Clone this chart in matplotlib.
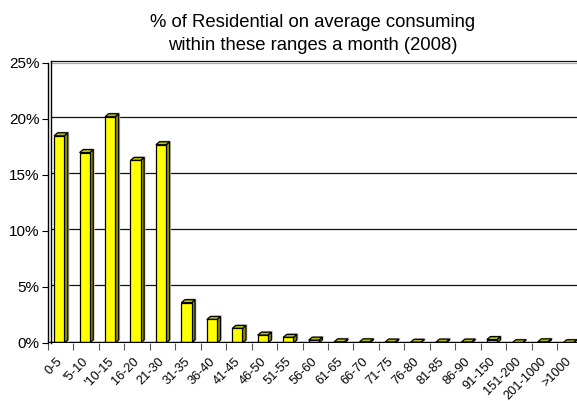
import matplotlib
matplotlib.use("Agg")
import matplotlib.pyplot as plt
from matplotlib.patches import Polygon
import matplotlib.transforms as mtransforms

categories = ["0-5", "'5-10", "'10-15", "16-20", "21-30", "31-35", "36-40", "41-45",
              "46-50", "51-55", "56-60", "61-65", "66-70", "71-75", "76-80", "81-85",
              "86-90", "91-150", "151-200", "201-1000", ">1000"]
values = [18.5, 17.0, 20.2, 16.3, 17.7, 3.6, 2.1, 1.3, 0.7, 0.5, 0.25, 0.1, 0.1,
          0.08, 0.06, 0.08, 0.08, 0.3, 0.02, 0.1, 0.02]
yticks = [0, 5, 10, 15, 20, 25]
title = "% of Residential on average consuming\nwithin these ranges a month (2008)"

plt.rcParams['font.family'] = ['Liberation Sans', 'DejaVu Sans']

W, H = 577, 401
fig = plt.figure(figsize=(W / 100, H / 100), dpi=100)
x0, x1, y0, y1 = 48, 582.5, 343, 63
ax = fig.add_axes([x0 / W, 1 - y0 / H, (x1 - x0) / W, (y0 - y1) / H])
n = len(categories)
ax.set_xlim(-0.5, n - 0.5)
ax.set_ylim(0, 25)

# 3D depth offsets in data units
px_x = n / (x1 - x0)
px_y = 25 / (y0 - y1)
dx, dy = 3.5 * px_x, 3.0 * px_y
bw = 0.40
gdy = 2.0 * px_y
wall_dx = 3.0 * px_x

# back wall gridlines (shifted by depth)
for t in yticks[1:]:
    ax.plot([-0.5 + wall_dx, n], [t + gdy, t + gdy], color='#111111',
            lw=0.9, zorder=1, clip_on=False)
# gray line under top
ax.plot([-0.5 + wall_dx, n], [25 + gdy - 2 * px_y, 25 + gdy - 2 * px_y], color='#aaaaaa', lw=0.9,
        zorder=1, clip_on=False)
# left wall double line
ax.plot([-0.5 + wall_dx, -0.5 + wall_dx], [0, 25 + gdy], color='black', lw=1.0, zorder=1, clip_on=False)

xs = list(range(n))
shift = -0.06
bars = ax.bar([x + shift for x in xs], values, width=bw, color='#FFFF00', edgecolor='black',
              linewidth=0.9, zorder=4)
for b in bars:
    bx, by, bwid, bh = b.get_x(), b.get_y(), b.get_width(), b.get_height()
    # light shadow
    sh = Polygon([(bx + bwid + dx, by + dy), (bx + bwid + dx + 1.5 * px_x, by + dy),
                  (bx + bwid + dx + 1.5 * px_x, by + bh + dy + 1.2 * px_y),
                  (bx + dx + 1.0 * px_x, by + bh + dy + 1.2 * px_y),
                  (bx + dx, by + bh + dy)], closed=True,
                 facecolor='#c8c8c8', edgecolor='none', zorder=2)
    ax.add_patch(sh)
    side = Polygon([(bx + bwid, by), (bx + bwid + dx, by + dy), (bx + bwid + dx, by + bh + dy),
                    (bx + bwid, by + bh)], closed=True, facecolor='#8C8C00', edgecolor='black',
                   lw=0.9, zorder=3, joinstyle='miter')
    top = Polygon([(bx, by + bh), (bx + dx, by + bh + dy), (bx + bwid + dx, by + bh + dy),
                   (bx + bwid, by + bh)], closed=True, facecolor='#BDBD00', edgecolor='black',
                  lw=0.9, zorder=3, joinstyle='miter')
    ax.add_patch(side)
    ax.add_patch(top)

# floor line
ax.axhline(0, color='black', lw=2.5, zorder=5)

for s in ['top', 'right', 'bottom']:
    ax.spines[s].set_visible(False)
ax.spines['left'].set_linewidth(1.0)

ax.set_yticks(yticks)
ax.set_yticklabels([f"{t}%" for t in yticks], fontsize=11)
ax.tick_params(axis='y', length=4, width=0.8, pad=2)

ax.set_xticks(xs)
ax.set_xticklabels(categories, rotation=45, ha='right', rotation_mode='anchor', fontsize=9.2)
ax.tick_params(axis='x', which='major', length=0, pad=9)
off = mtransforms.ScaledTranslation(-4 / 100, 0, fig.dpi_scale_trans)
for lab in ax.get_xticklabels():
    lab.set_transform(lab.get_transform() + off)
ax.set_xticks([i - 0.5 for i in range(n + 1)], minor=True)
ax.tick_params(axis='x', which='minor', length=5, width=0.8, color='#555555')

fig.text((x0 + 577) / 2 / W, 1 - 34 / H, title, ha='center', va='center', fontsize=13.3, linespacing=1.45)

fig.savefig("out.png", dpi=100)
